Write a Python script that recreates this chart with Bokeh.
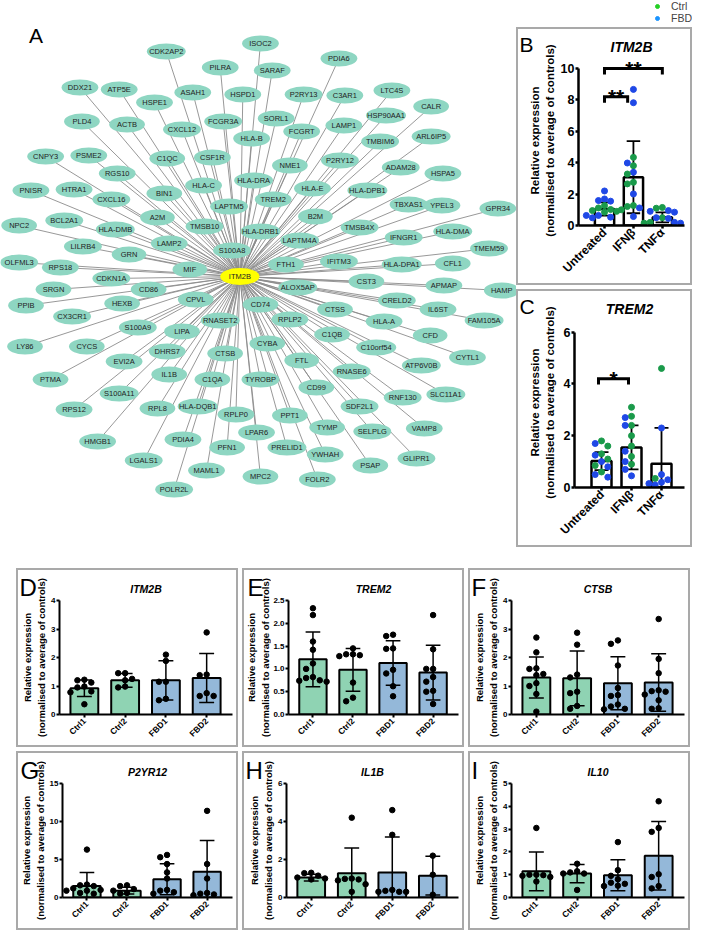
import math
from bokeh.plotting import figure
from bokeh.models import (Range1d, FixedTicker, Label, ColumnDataSource, Legend,
                          LegendItem, Spacer, NumeralTickFormatter)
from bokeh.layouts import row, column
from bokeh.embed import file_html
from bokeh.resources import INLINE
from bokeh.core.properties import value

FONT = "Liberation Sans"
BOX_STYLE = {"border": "2px solid #a9a9a9"}
NODE_FILL = "#8ed6c2"
HUB_FILL = "#ffff00"
EDGE_COLOR = "#8c8c8c"
CTRL_FILL = "#8fd3b3"
FBD_FILL = "#94b8d9"
DOT_CTRL = "#1a9a4a"
DOT_FBD = "#1f48e6"
LEG_CTRL = "#25d025"
LEG_FBD = "#1a94ff"

# ---------------- Panel A: network (hub + neighbours, layout) ----
hub_gene = "ITM2B"
hub_x, hub_y = 246, 284
genes = ["CDK2AP2", "ISOC2", "PDIA6", "PILRA", "SARAF", "DDX21", "ATP5E", "ASAH1", "HSPD1",
         "P2RY13", "C3AR1", "LTC4S", "CALR", "HSP90AA1", "HSPE1", "PLD4", "ACTB", "CXCL12",
         "FCGR3A", "SORL1", "FCGRT", "LAMP1", "HLA-B", "TMBIM6", "ARL6IP5", "CNPY3", "PSME2",
         "C1QC", "CSF1R", "NME1", "P2RY12", "ADAM28", "HSPA5", "RGS10", "HLA-DRA", "HLA-E",
         "HLA-DPB1", "PNISR", "HTRA1", "HLA-C", "BIN1", "CXCL16", "LAPTM5", "TREM2", "TBXAS1",
         "YPEL3", "GPR34", "NPC2", "BCL2A1", "HLA-DMB", "A2M", "TMSB10", "HLA-DRB1", "B2M",
         "TMSB4X", "LILRB4", "GRN", "LAMP2", "S100A8", "LAPTM4A", "IFNGR1", "HLA-DMA", "TMEM59",
         "OLFML3", "RPS18", "MIF", "FTH1", "IFITM3", "HLA-DPA1", "CFL1", "CDKN1A", "SRGN",
         "CD86", "ALOX5AP", "CST3", "APMAP", "HAMP", "PPIB", "HEXB", "CPVL", "CD74", "CTSS",
         "CRELD2", "IL6ST", "FAM105A", "CX3CR1", "S100A9", "RNASET2", "RPLP2", "HLA-A", "LIPA",
         "C1QB", "CFD", "LY86", "CYCS", "CYBA", "C10orf54", "CYTL1", "DHRS7", "CTSB", "EVI2A",
         "FTL", "ATP6V0B", "RNASE6", "PTMA", "IL1B", "C1QA", "TYROBP", "CD99", "S100A11",
         "RPS12", "RPL8", "HLA-DQB1", "RPLP0", "PPT1", "SDF2L1", "SLC11A1", "RNF130", "TYMP",
         "LPAR6", "VAMP8", "SELPLG", "HMGB1", "PDIA4", "PFN1", "PRELID1", "YWHAH", "GLIPR1",
         "PSAP", "LGALS1", "MAML1", "MPC2", "FOLR2", "POLR2L"]
gene_x = [171, 267, 347, 226, 279, 83, 123, 198, 249,
          311, 353, 401, 441, 395, 159, 85, 131, 187,
          229, 283, 309, 352, 258, 389, 441, 48, 92,
          172, 218, 297, 348, 410, 453, 121, 260, 320,
          376, 33, 77, 209, 169, 115, 235, 280, 418,
          452, 509, 21, 67, 119, 162, 210, 267, 323,
          368, 86, 133, 174, 238, 307, 413, 463, 500,
          21, 63, 195, 293, 347, 411, 463, 115, 56,
          153, 305, 375, 454, 513, 28, 126, 201, 267, 343,
          406, 448, 495, 75, 142, 226, 297, 393, 187,
          340, 440, 27, 90, 274, 385, 478, 172, 231, 128,
          309, 431, 360, 53, 174, 218, 267, 324, 123,
          77, 162, 203, 242, 297, 368, 456, 412, 335,
          263, 434, 381, 101, 188, 233, 294, 333, 426,
          379, 148, 212, 267, 325, 179]
gene_y = [59, 51, 66, 75, 78, 95, 97, 100, 102,
          102, 103, 98, 114, 123, 110, 129, 132, 137,
          129, 126, 139, 133, 146, 149, 144, 164, 163,
          166, 165, 173, 168, 175, 181, 181, 188, 196,
          198, 198, 197, 193, 201, 207, 214, 207, 212,
          213, 216, 233, 228, 237, 225, 234, 239, 224,
          235, 254, 262, 251, 258, 248, 245, 239, 256,
          270, 275, 277, 272, 269, 272, 271, 286, 297,
          297, 295, 289, 293, 298, 313, 311, 307, 312, 317,
          308, 317, 328, 324, 335, 328, 327, 329, 339,
          342, 343, 354, 354, 351, 355, 365, 359, 361, 369,
          368, 373, 379, 387, 382, 387, 387, 395, 401,
          417, 416, 414, 422, 423, 414, 402, 405, 435,
          440, 436, 439, 449, 447, 455, 455, 462, 466,
          473, 468, 478, 484, 487, 497]

# ---------------- Panels B, C: stimulation experiments ----------------
stim_cats = ["Untreated", "IFNβ", "TNFα"]
B_gene = "ITM2B"
B_mean = [1.05, 3.08, 0.52]
B_sd = [0.42, 2.3, 0.32]
B_ctrl = [[1.27, 1.12, 1.02, 0.95, 0.9, 0.85],
          [4.34, 3.81, 3.28, 2.75, 2.65, 1.27, 1.21, 1.0],
          [1.15, 1.1, 0.5, 0.2, 0.15]]
B_fbd = [[2.2, 1.69, 1.59, 1.55, 0.64, 0.64, 0.53, 0.49],
         [8.67, 7.82, 3.98, 3.39, 2.01, 1.12, 0.57],
         [0.95, 0.9, 0.85, 0.5, 0.45, 0.2, 0.15]]
B_yticks = [0, 2, 4, 6, 8, 10]
B_sig = [(1, 1.8, 8.2, "**"), (1, 3, 10.0, "**")]

C_gene = "TREM2"
C_mean = [1.02, 1.55, 0.92]
C_sd = [0.35, 0.85, 1.38]
C_ctrl = [[1.8, 1.6, 1.3, 1.1, 0.85, 0.6],
          [3.1, 2.75, 2.4, 2.0, 1.6, 1.2, 0.9],
          [4.6, 0.35]]
C_fbd = [[1.7, 1.25, 1.0, 0.8, 0.5, 0.4],
         [2.7, 2.4, 1.4, 1.0, 0.7, 0.45],
         [2.3, 0.5, 0.3, 0.2, 0.15, 0.1]]
C_yticks = [0, 2, 4, 6]
C_sig = [(0.9, 1.9, 4.2, "*")]

# ---------------- Panels D-I: donor lines ----------------
donor_cats = ["Ctrl1", "Ctrl2", "FBD1", "FBD2"]

D_mean = [0.92, 1.2, 1.2, 1.28]
D_sd = [0.29, 0.24, 0.69, 0.86]
D_pts = [[1.22, 1.2, 1.12, 0.98, 0.95, 0.81, 0.78, 0.36],
         [1.45, 1.45, 1.25, 1.2, 0.98, 0.95],
         [2.1, 1.88, 1.15, 1.15, 0.55, 0.5],
         [2.88, 1.4, 1.38, 0.75, 0.65, 0.65]]

E_mean = [1.21, 0.98, 1.13, 0.92]
E_sd = [0.6, 0.47, 0.49, 0.6]
E_pts = [[2.33, 2.18, 1.6, 1.42, 1.12, 1.0, 0.82, 0.8, 0.75, 0.74, 0.72],
         [1.45, 1.32, 1.32, 1.3, 1.28, 0.7, 0.37, 0.29],
         [1.75, 1.72, 1.45, 1.44, 0.98, 0.9, 0.62, 0.4],
         [2.18, 1.43, 1.0, 1.0, 0.82, 0.72, 0.52, 0.5, 0.23]]

F_mean = [1.3, 1.27, 1.1, 1.12]
F_sd = [0.72, 0.96, 0.93, 1.01]
F_pts = [[2.7, 2.18, 1.62, 1.6, 1.42, 1.38, 1.1, 1.0, 0.72, 0.1],
         [2.87, 2.45, 1.4, 1.3, 0.8, 0.75, 0.3, 0.2],
         [2.6, 2.48, 1.72, 0.93, 0.68, 0.65, 0.35, 0.28, 0.2, 0.18],
         [3.35, 1.95, 1.45, 0.85, 0.82, 0.8, 0.7, 0.5, 0.22, 0.2]]

G_mean = [1.5, 0.9, 2.4, 3.4]
G_sd = [1.8, 0.45, 2.05, 4.1]
G_pts = [[6.3, 1.7, 1.6, 1.5, 1.2, 1.0, 0.9, 0.9, 0.6, 0.5],
         [1.6, 1.5, 1.1, 0.9, 0.6, 0.5],
         [5.6, 5.3, 4.4, 3.3, 2.5, 1.0, 0.9, 0.7, 0.5],
         [11.4, 4.4, 2.5, 0.6, 0.5, 0.4, 0.3]]

H_mean = [1.05, 1.28, 1.32, 1.15]
H_sd = [0.18, 1.32, 1.86, 1.02]
H_pts = [[1.3, 1.28, 1.15, 1.05, 1.0, 0.95],
         [4.2, 1.0, 0.98, 0.95, 0.9, 0.7, 0.3],
         [4.6, 3.3, 0.4, 0.35, 0.3, 0.3, 0.3],
         [2.2, 1.2, 0.15]]

I_mean = [1.15, 1.05, 0.98, 1.83]
I_sd = [0.85, 0.4, 0.68, 1.5]
I_pts = [[3.05, 1.0, 1.0, 0.98, 0.95, 0.9, 0.7],
         [1.48, 1.15, 1.1, 1.05, 1.05, 0.33],
         [2.43, 1.2, 0.95, 0.8, 0.65, 0.6, 0.52, 0.5],
         [4.22, 3.05, 2.88, 1.02, 0.9, 0.5, 0.4]]

YLABEL = "Relative expression\n(normalised to average of controls)"


def swarm(vals, ppx, ppy, dot, step):
    placed, out = [], []
    order = [0, -1, 1, -2, 2, -3, 3, -4, 4]
    for v in vals:
        chosen = order[-1] * step
        for k in order:
            dx = k * step
            if all(((dx - px) * ppx) ** 2 + ((v - py) * ppy) ** 2 >= dot ** 2 for px, py in placed):
                chosen = dx
                break
        placed.append((chosen, v))
        out.append(chosen)
    return out


def style_axes(p, ytick_size, xtick_size, line_w):
    for ax in p.axis:
        ax.axis_line_width = line_w
        ax.major_tick_line_width = line_w
        ax.major_tick_in = 0
        ax.major_tick_out = 3
        ax.minor_tick_line_color = None
        ax.major_label_text_font = FONT
        ax.major_label_text_font_style = "bold"
        ax.major_label_text_color = "black"
    p.yaxis.major_label_text_font_size = ytick_size
    p.xaxis.major_label_text_font_size = xtick_size
    p.yaxis.major_label_standoff = 1
    p.xaxis.major_label_standoff = 2
    p.grid.visible = False
    p.outline_line_color = None


def side_strip(width, height, letter, letter_size, label_size, border_left, frame_top,
               frame_bottom, letter_standoff):
    """Narrow strip holding the panel letter (title) and the y-axis title."""
    s = figure(width=width, height=height, x_range=Range1d(0, 1), y_range=Range1d(0, 1),
               x_axis_type=None, min_border_left=border_left, min_border_right=0,
               min_border_top=frame_top, min_border_bottom=height - frame_bottom,
               toolbar_location=None, output_backend="svg", title=letter)
    s.yaxis.ticker = FixedTicker(ticks=[])
    s.yaxis.axis_line_color = None
    s.yaxis.major_tick_line_color = None
    s.yaxis.minor_tick_line_color = None
    s.yaxis.axis_label = YLABEL
    s.yaxis.axis_label_standoff = 0
    s.yaxis.axis_label_text_font = FONT
    s.yaxis.axis_label_text_font_size = label_size
    s.yaxis.axis_label_text_font_style = "bold"
    s.yaxis.axis_label_text_color = "black"
    s.grid.visible = False
    s.outline_line_color = None
    s.title.align = "left"
    s.title.offset = -(border_left - 1)
    s.title.text_font = FONT
    s.title.text_font_size = letter_size
    s.title.text_font_style = "normal"
    s.title.text_color = "black"
    s.title.standoff = letter_standoff
    return s


# ---------------- Panel A figure ----------------
pa = figure(width=516, height=568, x_range=Range1d(2, 528), y_range=Range1d(576, 8),
            x_axis_type=None, y_axis_type=None, min_border=0, toolbar_location=None,
            output_backend="svg", outline_line_color=None)
n = len(genes)
net_src = ColumnDataSource(dict(x=gene_x, y=gene_y, hx=[hub_x] * n, hy=[hub_y] * n,
                                name=genes, w=[32 + 1.1 * len(g) for g in genes]))
pa.segment("x", "y", "hx", "hy", source=net_src, line_color=EDGE_COLOR, line_width=0.9)
pa.ellipse("x", "y", width="w", height=16, source=net_src, fill_color=NODE_FILL, line_color=None)
pa.ellipse([hub_x], [hub_y], width=40, height=17, fill_color=HUB_FILL, line_color=None)
pa.text("x", "y", text="name", source=net_src, text_align="center", text_baseline="middle",
        text_font=value(FONT), text_font_size="7.5px", text_color="#222222")
pa.text([hub_x], [hub_y], text=[hub_gene], text_align="center", text_baseline="middle",
        text_font=value(FONT), text_font_size="7.5px", text_color="#222222")
pa.add_layout(Label(x=31, y=31, text="A", text_font=FONT, text_font_size="21px",
                    text_baseline="top", text_align="left", text_color="black"))

# ---------------- Legend strip ----------------
pl = figure(width=176, height=27, x_range=Range1d(1, 2), y_range=Range1d(1, 2),
            x_axis_type=None, y_axis_type=None, min_border=0, toolbar_location=None,
            output_backend="svg", outline_line_color=None)
r_ctrl = pl.scatter(x=[0], y=[0], size=8, color=LEG_CTRL)
r_fbd = pl.scatter(x=[0], y=[0], size=8, color=LEG_FBD)
leg = Legend(items=[LegendItem(label="Ctrl", renderers=[r_ctrl]),
                    LegendItem(label="FBD", renderers=[r_fbd])],
             location="top_right", border_line_color=None, background_fill_alpha=0,
             label_text_font=FONT, label_text_font_size="10.5px", glyph_width=10,
             glyph_height=12, label_height=12, spacing=0, padding=0, margin=0,
             label_standoff=9)
pl.add_layout(leg)


# ---------------- B / C boxes ----------------
def stim_panel(letter, gene, means, sds, ctrl_pts, fbd_pts, yticks, ppy, frame_top,
               frame_bottom, sig):
    cw, ch = 172, 254
    lw, L, FW = 39, 56, 110
    pw = cw - lw
    ytop = (frame_bottom - frame_top) / ppy
    ppx = 30.0
    x0 = 0.1
    x1 = x0 + FW / ppx
    p = figure(width=pw, height=ch, x_range=Range1d(x0, x1), y_range=Range1d(0, ytop),
               min_border_left=L - lw, min_border_right=pw - (L - lw) - FW,
               min_border_top=frame_top, min_border_bottom=ch - frame_bottom,
               toolbar_location=None, output_backend="svg", title=gene)
    p.title.align = "center"
    p.title.text_font = FONT
    p.title.text_font_size = "14px"
    p.title.text_font_style = "bold italic"
    p.title.text_color = "black"
    p.title.standoff = 2
    xs = [1, 2, 3]
    p.vbar(x=xs, top=means, width=20 / ppx, fill_color="white", line_color="black",
           line_width=2.5)
    lo = [max(0, m - s) for m, s in zip(means, sds)]
    hi = [m + s for m, s in zip(means, sds)]
    cap = 7 / ppx
    p.segment(xs, lo, xs, hi, line_color="black", line_width=1.8)
    p.segment([x - cap for x in xs], hi, [x + cap for x in xs], hi, line_color="black",
              line_width=1.8)
    p.segment([x - cap for x in xs], lo, [x + cap for x in xs], lo, line_color="black",
              line_width=1.8)
    dxs, dys, cols = [], [], []
    for i in range(3):
        vals = [(v, DOT_CTRL) for v in ctrl_pts[i]] + [(v, DOT_FBD) for v in fbd_pts[i]]
        vals.sort(key=lambda t: -t[0])
        offs = swarm([v for v, _ in vals], ppx, ppy, 6.0, 6.3 / ppx)
        for (v, c), o in zip(vals, offs):
            dxs.append(xs[i] + o)
            dys.append(v)
            cols.append(c)
    p.scatter(dxs, dys, size=6, color=cols)
    leg_len = 6 / ppy
    for (a, b, yv, txt) in sig:
        p.line([a, a, b, b], [yv - leg_len, yv, yv, yv - leg_len], line_color="black",
               line_width=3, line_join="miter")
        p.add_layout(Label(x=(a + b) / 2, y=yv, text=txt, text_align="center",
                           text_baseline="alphabetic", text_font=FONT,
                           text_font_style="bold", text_font_size="21px",
                           text_color="black"))
    style_axes(p, "12.5px", "12px", 2.5)
    p.yaxis.ticker = FixedTicker(ticks=yticks)
    p.yaxis.bounds = (0, yticks[-1])
    p.xaxis.ticker = FixedTicker(ticks=xs)
    p.xaxis.major_label_overrides = {x: c for x, c in zip(xs, stim_cats)}
    p.xaxis.major_label_orientation = math.pi / 4
    s = side_strip(lw, ch, letter, "21px", "11.5px", 37, frame_top, frame_bottom, 0)
    return row(s, p, styles=BOX_STYLE)


box_b = stim_panel("B", B_gene, B_mean, B_sd, B_ctrl, B_fbd, B_yticks, 15.7, 26, 196, B_sig)
box_c = stim_panel("C", C_gene, C_mean, C_sd, C_ctrl, C_fbd, C_yticks, 27.1, 26, 204, C_sig)


# ---------------- D-I boxes ----------------
def expr_panel(letter, gene, ymax, yticks, means, sds, pts, lw, decimals=False):
    cw, ch = 218, 175
    L, T, FW, FH = 40, 30, 174, 114
    pw = cw - lw
    ppx = 41.0
    x0 = 0.39
    x1 = x0 + FW / ppx
    ppy = FH / ymax
    p = figure(width=pw, height=ch, x_range=Range1d(x0, x1), y_range=Range1d(0, ymax),
               min_border_left=L - lw, min_border_top=T, min_border_right=pw - (L - lw) - FW,
               min_border_bottom=ch - T - FH, toolbar_location=None, output_backend="svg",
               title=gene)
    p.title.align = "center"
    p.title.text_font = FONT
    p.title.text_font_size = "10.5px"
    p.title.text_font_style = "bold italic"
    p.title.text_color = "black"
    p.title.standoff = 12
    xs = [1, 2, 3, 4]
    fills = [CTRL_FILL, CTRL_FILL, FBD_FILL, FBD_FILL]
    p.vbar(x=xs, top=means, width=28 / ppx, fill_color=fills, line_color="black",
           line_width=2)
    lo = [max(0, m - s) for m, s in zip(means, sds)]
    hi = [m + s for m, s in zip(means, sds)]
    cap = 7.5 / ppx
    p.segment(xs, lo, xs, hi, line_color="black", line_width=1.5)
    p.segment([x - cap for x in xs], hi, [x + cap for x in xs], hi, line_color="black",
              line_width=1.5)
    p.segment([x - cap for x in xs], lo, [x + cap for x in xs], lo, line_color="black",
              line_width=1.5)
    dxs, dys = [], []
    for i, vals in enumerate(pts):
        offs = swarm(vals, ppx, ppy, 5.8, 7 / ppx)
        dxs += [xs[i] + o for o in offs]
        dys += vals
    p.scatter(dxs, dys, size=5.5, color="black")
    style_axes(p, "8px", "8.5px", 2)
    p.yaxis.ticker = FixedTicker(ticks=yticks)
    if decimals:
        p.yaxis.formatter = NumeralTickFormatter(format="0.0")
    p.xaxis.ticker = FixedTicker(ticks=xs)
    p.xaxis.major_label_overrides = {x: c for x, c in zip(xs, donor_cats)}
    p.xaxis.major_label_orientation = math.pi / 4
    s = side_strip(lw, ch, letter, "24px", "9.5px", lw - 2, T, T + FH, 0)
    return row(s, p, styles=BOX_STYLE)


box_d = expr_panel("D", "ITM2B", 4, [0, 1, 2, 3, 4], D_mean, D_sd, D_pts, 30)
box_e = expr_panel("E", "TREM2", 2.5, [0, 0.5, 1.0, 1.5, 2.0, 2.5], E_mean, E_sd, E_pts, 26,
                   True)
box_f = expr_panel("F", "CTSB", 4, [0, 1, 2, 3, 4], F_mean, F_sd, F_pts, 30)
box_g = expr_panel("G", "P2YR12", 15, [0, 5, 10, 15], G_mean, G_sd, G_pts, 28)
box_h = expr_panel("H", "IL1B", 6, [0, 2, 4, 6], H_mean, H_sd, H_pts, 31)
box_i = expr_panel("I", "IL10", 5, [0, 1, 2, 3, 4, 5], I_mean, I_sd, I_pts, 30)

right_col = column(pl, box_b, Spacer(width=176, height=4), box_c)
top = row(pa, right_col)
mid = row(Spacer(width=16, height=179), box_d, Spacer(width=4, height=179), box_e,
          Spacer(width=4, height=179), box_f)
bot = row(Spacer(width=16, height=179), box_g, Spacer(width=4, height=179), box_h,
          Spacer(width=4, height=179), box_i)
layout = column(top, mid, Spacer(width=10, height=4), bot)

open("out.html", "w").write(file_html(layout, INLINE))
